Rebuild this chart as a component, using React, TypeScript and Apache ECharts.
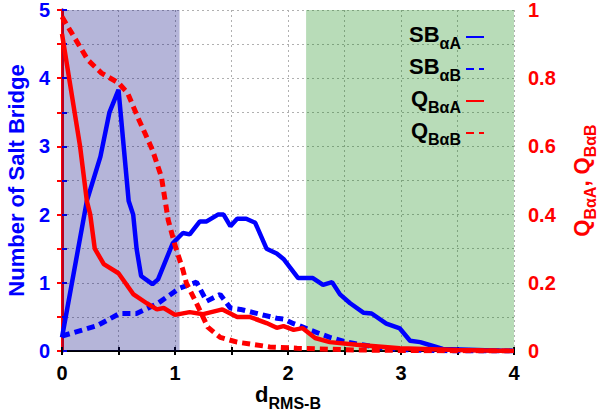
import React, { useEffect, useRef } from "react";
import * as echarts from "echarts";

const sbAx = [0, 0.22, 0.34, 0.42, 0.5, 0.59, 0.63, 0.66, 0.7, 0.8, 0.85, 0.98, 1.07, 1.13, 1.22, 1.28, 1.38, 1.43, 1.49, 1.55, 1.63, 1.71, 1.81, 1.9, 1.96, 2.09, 2.22, 2.31, 2.39, 2.46, 2.55, 2.67, 2.74, 2.87, 2.99, 3.08, 3.17, 3.29, 3.37, 3.6, 4.0];
const sbAy = [0.2, 2.2, 2.85, 3.5, 3.83, 2.2, 2.0, 1.5, 1.1, 0.98, 1.05, 1.58, 1.73, 1.71, 1.9, 1.9, 2.0, 2.0, 1.83, 1.94, 1.94, 1.88, 1.5, 1.43, 1.35, 1.07, 1.07, 0.97, 1.01, 0.83, 0.7, 0.56, 0.55, 0.4, 0.33, 0.15, 0.13, 0.07, 0.03, 0.02, 0.0];

const sbBx = [0, 0.31, 0.51, 0.66, 0.84, 1.04, 1.19, 1.28, 1.4, 1.49, 1.58, 1.75, 1.9, 1.96, 2.05, 2.1, 2.19, 2.37, 2.52, 2.8, 3.0, 3.5, 4.0];
const sbBy = [0.22, 0.37, 0.55, 0.55, 0.69, 0.92, 1.01, 0.73, 0.83, 0.63, 0.61, 0.54, 0.48, 0.47, 0.4, 0.37, 0.31, 0.2, 0.13, 0.05, 0.02, 0.0, 0.0];

const qAx = [0, 0.16, 0.22, 0.25, 0.29, 0.37, 0.5, 0.63, 0.75, 0.84, 0.9, 1.0, 1.13, 1.25, 1.42, 1.55, 1.66, 1.81, 1.9, 1.96, 2.05, 2.13, 2.24, 2.37, 2.61, 2.99, 3.5, 4.0];
const qAy = [0.93, 0.6, 0.44, 0.4, 0.3, 0.255, 0.228, 0.167, 0.14, 0.122, 0.126, 0.106, 0.114, 0.108, 0.122, 0.1, 0.1, 0.082, 0.068, 0.073, 0.062, 0.067, 0.038, 0.026, 0.018, 0.008, 0.003, 0.0];

const qBx = [0, 0.23, 0.35, 0.5, 0.58, 0.67, 0.8, 0.88, 0.94, 1.0, 1.07, 1.1, 1.19, 1.29, 1.4, 1.55, 1.84, 2.08, 2.6, 3.2, 4.0];
const qBy = [0.98, 0.853, 0.815, 0.786, 0.757, 0.686, 0.59, 0.51, 0.384, 0.31, 0.238, 0.2, 0.14, 0.07, 0.04, 0.026, 0.012, 0.008, 0.003, 0.001, 0.0];

const blueRegion = [0, 1.04];
const greenRegion = [2.16, 4];

const seriesNames = ["SBαA", "SBαB", "QBαA", "QBαB"];
const legendRich: Record<string, string> = {
  SBαA: "{b|SB}{s|αA}",
  SBαB: "{b|SB}{s|αB}",
  QBαA: "{b|Q}{s|BαA}",
  QBαB: "{b|Q}{s|BαB}",
};

const zip = (xs: number[], ys: number[]) => xs.map((x, i) => [x, ys[i]]);

const FONT = "Liberation Sans";

export default function App() {
  const ref = useRef<HTMLDivElement>(null);
  useEffect(() => {
    if (!ref.current) return;
    const chart = echarts.init(ref.current, undefined, { renderer: "svg" });
    const BLUE = "#0000ff";
    const RED = "#ff0000";
    const rich = (color: string, subPad = 10) => ({
      b: { fontSize: 22, fontWeight: "bold", fontFamily: FONT, color, verticalAlign: "top", lineHeight: 28 },
      s: { fontSize: 16, fontWeight: "bold", fontFamily: FONT, color, verticalAlign: "bottom", lineHeight: 28, padding: [subPad, 0, 0, 0] },
    });
    const lineSeries = (name: string, data: number[][], color: string, dashed: boolean, yAxisIndex: number, extra: any = {}) => ({
      name,
      type: "line",
      data,
      yAxisIndex,
      symbol: "none",
      lineStyle: { color, width: dashed ? 5 : 4.5, type: dashed ? [8, 5] : "solid" },
      itemStyle: { color },
      ...extra,
    });
    chart.setOption({
      animation: false,
      grid: { left: 62, right: 86, top: 10, bottom: 61, outerBoundsMode: "none", containLabel: false },
      legend: {
        data: seriesNames,
        orient: "vertical",
        align: "right",
        right: 110,
        top: 18,
        itemGap: 4,
        itemWidth: 18,
        itemHeight: 14,
        itemStyle: { opacity: 0 },
        formatter: (n: string) => legendRich[n],
        textStyle: { rich: rich("#000") },
      },
      xAxis: [
        {
          type: "value",
          min: 0,
          max: 4,
          interval: 0.5,
          name: "{b|d}{s|RMS-B}",
          nameLocation: "middle",
          nameGap: 32,
          nameMoveOverlap: false,
          nameTextStyle: { rich: rich("#000", 8) },
          axisLine: { lineStyle: { color: "#000", width: 2 } },
          axisTick: { inside: true, length: 4, lineStyle: { color: "#000", width: 2 } },
          axisLabel: {
            formatter: (v: number) => (Number.isInteger(v) ? String(v) : ""),
            color: "#000",
            fontSize: 20,
            fontWeight: "bold",
            fontFamily: FONT,
            margin: 12,
          },
          splitLine: { show: true, lineStyle: { color: "#b0b0b0", type: [2, 3], width: 1 } },
        },
        {
          type: "value",
          position: "top",
          min: 0,
          max: 4,
          interval: 0.5,
          axisLine: { show: true, lineStyle: { color: "#000", width: 2 } },
          axisTick: { show: true, inside: true, length: 4, lineStyle: { color: "#000", width: 2 } },
          axisLabel: { show: false },
          splitLine: { show: false },
        },
      ],
      yAxis: [
        {
          type: "value",
          min: 0,
          max: 5,
          interval: 0.5,
          name: "Number of Salt Bridge",
          nameLocation: "middle",
          nameGap: 33,
          nameTextStyle: { color: BLUE, fontSize: 22, fontWeight: "bold", fontFamily: FONT },
          axisLine: { show: true, lineStyle: { color: BLUE, width: 3 } },
          axisTick: { inside: true, length: 5, lineStyle: { color: BLUE, width: 2 } },
          axisLabel: {
            formatter: (v: number) => (Number.isInteger(v) ? String(v) : ""),
            color: BLUE,
            fontSize: 20,
            fontWeight: "bold",
            fontFamily: FONT,
            margin: 12,
          },
          splitLine: { show: true, lineStyle: { color: "#b0b0b0", type: [2, 3], width: 1 } },
        },
        {
          type: "value",
          min: 0,
          max: 1,
          interval: 0.1,
          position: "right",
          name: "{b|Q}{s|BαA}{b|, Q}{s|BαB}",
          nameLocation: "middle",
          nameRotate: 90,
          nameGap: 56,
          nameTextStyle: { rich: rich(RED) },
          axisLine: { show: true, lineStyle: { color: RED, width: 3 } },
          axisTick: { inside: true, length: 5, lineStyle: { color: RED, width: 2 } },
          axisLabel: {
            formatter: (v: number) => {
              const k = Math.round(v * 10);
              if (k % 2 !== 0) return "";
              return k === 0 ? "0" : k === 10 ? "1" : (k / 10).toFixed(1);
            },
            color: RED,
            fontSize: 20,
            fontWeight: "bold",
            fontFamily: FONT,
            margin: 14,
          },
          splitLine: { show: false },
        },
      ],
      series: [
        lineSeries("SBαA", zip(sbAx, sbAy), BLUE, false, 0, {
          z: 3,
          markArea: {
            silent: true,
            data: [
              [{ xAxis: blueRegion[0], itemStyle: { color: "rgba(0,0,125,0.29)" } }, { xAxis: blueRegion[1] }],
              [{ xAxis: greenRegion[0], itemStyle: { color: "rgba(0,130,0,0.28)" } }, { xAxis: greenRegion[1] }],
            ],
          },
        }),
        lineSeries("SBαB", zip(sbBx, sbBy), BLUE, true, 0, { z: 3 }),
        lineSeries("QBαA", zip(qAx, qAy), RED, false, 1, { z: 4 }),
        lineSeries("QBαB", zip(qBx, qBy), RED, true, 1, { z: 4 }),
      ],
    });
    return () => chart.dispose();
  }, []);
  return <div ref={ref} style={{ width: 600, height: 412, position: "absolute", left: 0, top: 0 }} />;
}
